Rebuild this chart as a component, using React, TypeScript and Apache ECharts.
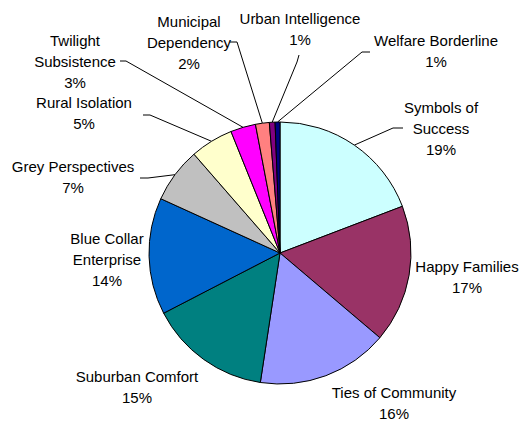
import React, { useEffect, useRef } from 'react';
import * as echarts from 'echarts';

const categories = [
  'Symbols of Success',
  'Happy Families',
  'Ties of Community',
  'Suburban Comfort',
  'Blue Collar Enterprise',
  'Grey Perspectives',
  'Rural Isolation',
  'Twilight Subsistence',
  'Municipal Dependency',
  'Urban Intelligence',
  'Welfare Borderline',
];
const values = [19.2, 17.0, 16.2, 15.0, 14.4, 6.8, 5.3, 3.1, 1.7, 0.7, 0.6];
const colors = [
  '#CCFFFF', '#993366', '#9999FF', '#008080', '#0066CC', '#C0C0C0',
  '#FFFFCC', '#FF00FF', '#FF8080', '#800080', '#000080',
];
const labelNames = [
  'Symbols of\nSuccess',
  'Happy Families',
  'Ties of Community',
  'Suburban Comfort',
  'Blue Collar\nEnterprise',
  'Grey Perspectives',
  'Rural Isolation',
  'Twilight\nSubsistence',
  'Municipal\nDependency',
  'Urban Intelligence',
  'Welfare Borderline',
];

// layout (positions of labels and leader-line elbows)
const CX = 280;
const CY = 253;
const R = 131;
type L = { x: number; y: number; line?: [number, number][] };
const LAYOUT: L[] = [
  { x: 441, y: 128, line: [[393, 128], [403, 128]] },
  { x: 467, y: 277 },
  { x: 394, y: 403 },
  { x: 137, y: 387 },
  { x: 107, y: 259 },
  { x: 73, y: 177, line: [[148, 178], [140, 178]] },
  { x: 84, y: 113, line: [[150, 115], [143, 115]] },
  { x: 75, y: 61, line: [[126, 61], [120, 61]] },
  { x: 189, y: 42, line: [[237, 42], [230, 42]] },
  { x: 300, y: 29, line: [[297, 62], [299, 55]] },
  { x: 436, y: 51, line: [[362, 52], [370, 52]] },
];

export default function App() {
  const ref = useRef<HTMLDivElement>(null);
  useEffect(() => {
    if (!ref.current) return;
    const chart = echarts.init(ref.current, undefined, { renderer: 'svg' });
    const total = values.reduce((a, b) => a + b, 0);
    const mids: number[] = [];
    let acc = 0;
    values.forEach((v) => {
      mids.push((acc + v / 2) / total);
      acc += v;
    });
    chart.setOption({
      animation: false,
      backgroundColor: '#ffffff',
      series: [
        {
          type: 'pie',
          center: [CX, CY],
          radius: R,
          startAngle: 90,
          clockwise: true,
          avoidLabelOverlap: false,
          percentPrecision: 0,
          itemStyle: { borderColor: '#000000', borderWidth: 1 },
          emphasis: { disabled: true },
          label: {
            show: true,
            position: 'outside',
            color: '#000000',
            fontFamily: 'Liberation Sans, Arial, sans-serif',
            fontSize: 15,
            lineHeight: 21,
            align: 'center',
            formatter: (p: any) => `${labelNames[p.dataIndex]}\n${p.percent}%`,
          },
          labelLine: {
            show: true,
            smooth: false,
            length: 10,
            length2: 8,
            lineStyle: { color: '#000000', width: 1 },
          },
          labelLayout: (params: any) => {
            const i = params.dataIndex;
            const l = LAYOUT[i];
            const res: any = { x: l.x, y: l.y, align: 'center', verticalAlign: 'middle' };
            if (l.line) {
              const a = mids[i] * Math.PI * 2;
              const px = CX + R * Math.sin(a);
              const py = CY - R * Math.cos(a);
              res.labelLinePoints = [[px, py], l.line[0], l.line[1]];
            }
            return res;
          },
          data: categories.map((name, i) => ({
            name,
            value: values[i],
            itemStyle: { color: colors[i] },
            labelLine: { show: !!LAYOUT[i].line },
          })),
        },
      ],
    });
    return () => chart.dispose();
  }, []);
  return (
    <div
      ref={ref}
      style={{ position: 'fixed', left: 0, top: 0, width: 529, height: 421 }}
    />
  );
}
